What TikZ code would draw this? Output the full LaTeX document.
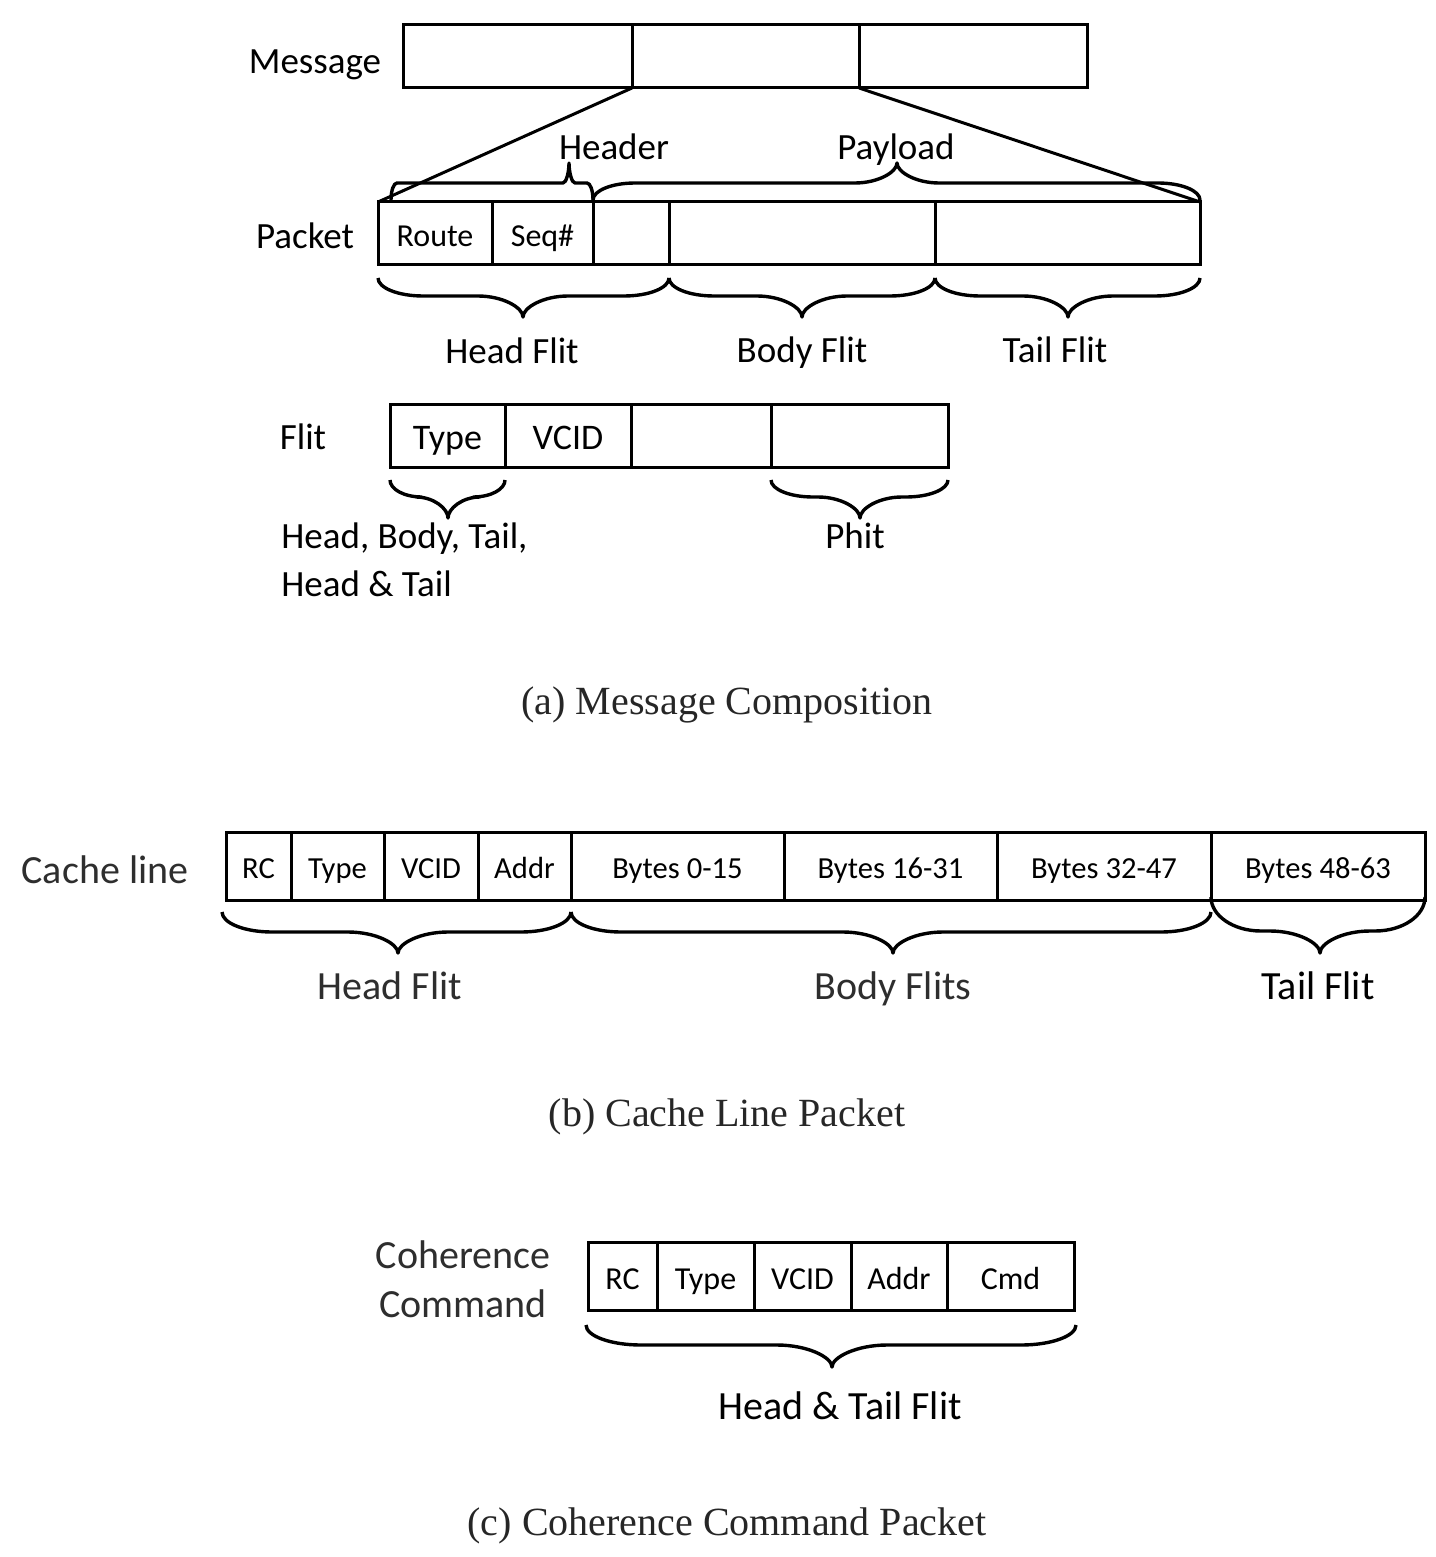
\documentclass[tikz,border=0pt]{standalone}
\usepackage{fontspec}
\setmainfont{Carlito}
\newfontfamily\capfont{Liberation Serif}
\newcommand\mkfield[7][]{\node[fld,#1,minimum width={(#4-#3)*0.5pt},minimum height={(#6-#5)*0.5pt}] (#2) at ({(#3+#4)/2},{(#5+#6)/2}) {#7};}
% brace: x0, x1, xtip, yend, ybar, ytip, radius
\newcommand\brcd[7]{\draw[brc] (#1,#4) .. controls (#1,{#4+0.552*(#5-#4)}) and ({#1+0.448*#7},#5) .. ({#1+#7},#5) -- ({#3-#7},#5) .. controls ({#3-0.448*#7},#5) and (#3,{#5+0.552*(#6-#5)}) .. (#3,#6) .. controls (#3,{#5+0.552*(#6-#5)}) and ({#3+0.448*#7},#5) .. ({#3+#7},#5) -- ({#2-#7},#5) .. controls ({#2-0.448*#7},#5) and (#2,{#4+0.552*(#5-#4)}) .. (#2,#4);}
\begin{document}
\begin{tikzpicture}[x=0.5pt,y=-0.5pt,
 fld/.style={draw,line width=1.5pt,inner sep=0pt,outer sep=0pt,text height=13.3pt,text depth=0pt,font=\fontsize{16}{18}\selectfont},
 big/.style={font=\fontsize{18}{21}\selectfont,text height=13.6pt},
 sml/.style={font=\fontsize{15.3}{18}\selectfont,text height=12.85pt},
 lbl/.style={inner sep=0pt,text height=11.9pt,text depth=0pt,font=\fontsize{18.5}{22}\selectfont},
 lblb/.style={inner sep=0pt,text height=12.9pt,text depth=0pt,font=\fontsize{20}{24}\selectfont,text=black!82},
 brc/.style={line width=1.7pt,line join=round},
 capt/.style={inner sep=0pt,text height=13.2pt,text depth=0pt,font=\capfont\fontsize{20}{24}\selectfont,text=black!85}]
\useasboundingbox (0,0) rectangle (1435,1557);
% (a) Message
\mkfield{m1}{403}{632}{25}{88}{}
\mkfield{m2}{632}{859}{25}{88}{}
\mkfield{m3}{859}{1087}{25}{88}{}
\node[lbl] (lmsg) at (315,62) {Message};
% Packet
\mkfield{route}{378}{492}{202}{265}{Route}
\mkfield{seq}{492}{593}{202}{265}{Seq\#}
\mkfield{p1}{593}{669}{202}{265}{}
\mkfield{p2}{669}{935}{202}{265}{}
\mkfield{p3}{935}{1200}{202}{265}{}
\node[lbl] (lpkt) at (305,237) {Packet};
\draw[line width=1.5pt] (m1.south east) -- (route.north west);
\draw[line width=1.5pt] (m2.south east) -- (p3.north east);
\brcd{391}{593}{569}{200}{183}{163}{6}
\brcd{593}{1200}{897}{200}{183}{163}{42}
\node[lbl] (lhdr) at (614,148) {Header};
\node[lbl] (lpay) at (896,148) {Payload};
\brcd{378}{669}{523}{278}{296}{317}{45}
\brcd{669}{935}{802}{278}{296}{317}{45}
\brcd{935}{1200}{1068}{278}{296}{317}{45}
\node[lbl] (lhf) at (512,352) {Head Flit};
\node[lbl] (lbf) at (802,351) {Body Flit};
\node[lbl] (ltf) at (1055,351) {Tail Flit};
% Flit
\mkfield[big]{ftype}{390}{505}{404}{467}{Type}
\mkfield[big]{fvc}{505}{631}{404}{467}{VCID}
\mkfield{f3}{631}{771}{404}{467}{}
\mkfield{f4}{771}{948}{404}{467}{}
\node[lbl] (lflit) at (303,438) {Flit};
\brcd{390}{505}{448}{480}{497}{518}{32}
\brcd{771}{948}{860}{480}{497}{518}{42}
\node[lbl,anchor=west] (lhbt) at (281,537) {Head, Body, Tail,};
\node[lbl,anchor=west] (lht) at (281,585) {Head \& Tail};
\node[lbl] (lphit) at (855,537) {Phit};
\node[capt] (capa) at (727,701) {(a) Message Composition};
% (b) Cache line
\mkfield[sml]{c1}{226}{291}{832}{900}{RC}
\mkfield[sml]{c2}{291}{384}{832}{900}{Type}
\mkfield[sml]{c3}{384}{478}{832}{900}{VCID}
\mkfield[sml]{c4}{478}{571}{832}{900}{Addr}
\mkfield[sml]{c5}{571}{784}{832}{900}{Bytes 0-15}
\mkfield[sml]{c6}{784}{997}{832}{900}{Bytes 16-31}
\mkfield[sml]{c7}{997}{1211}{832}{900}{Bytes 32-47}
\mkfield[sml]{c8}{1211}{1425}{832}{900}{Bytes 48-63}
\node[lblb] (lcl) at (105,871) {Cache line};
\brcd{222}{571}{398}{912}{932}{953}{50}
\brcd{571}{1211}{893}{912}{932}{953}{50}
\brcd{1211}{1425}{1320}{897}{931}{953}{50}
\node[lblb] (lhf2) at (390,987) {Head Flit};
\node[lblb] (lbf2) at (893,987) {Body Flits};
\node[lblb,text=black] (ltf2) at (1318,987) {Tail Flit};
\node[capt] (capb) at (727,1113) {(b) Cache Line Packet};
% (c) Coherence command
\mkfield{k1}{588}{657}{1242}{1310}{RC}
\mkfield{k2}{657}{754}{1242}{1310}{Type}
\mkfield{k3}{754}{851}{1242}{1310}{VCID}
\mkfield{k4}{851}{947}{1242}{1310}{Addr}
\mkfield{k5}{947}{1074}{1242}{1310}{Cmd}
\node[lblb] (lcoh) at (463,1256) {Coherence};
\node[lblb] (lcmd) at (463,1305) {Command};
\brcd{586}{1076}{832}{1325}{1345}{1367}{55}
\node[lblb,text=black] (lhtf) at (840,1407) {Head \& Tail Flit};
\node[capt] (capc) at (727,1522) {(c) Coherence Command Packet};
\end{tikzpicture}
\end{document}
